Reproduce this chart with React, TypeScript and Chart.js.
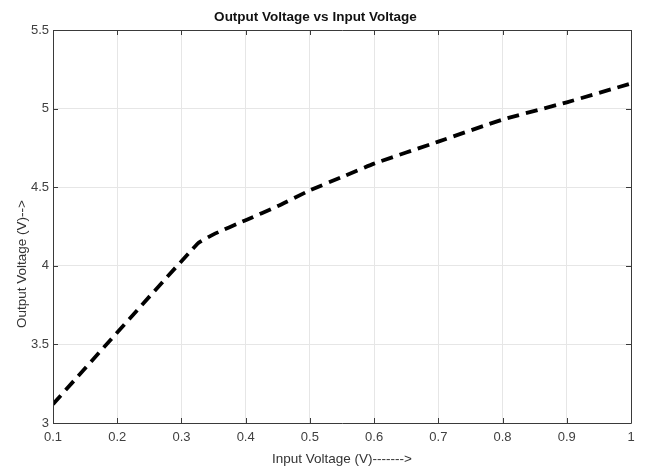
import React, { useEffect, useRef } from "react";
import { Chart, registerables } from "chart.js";

Chart.register(...registerables);

const inputVoltage = [0.1, 0.325, 0.35, 0.4, 0.45, 0.5, 0.55, 0.6, 0.7, 0.8, 0.9, 1.0];
const outputVoltage = [3.12, 4.14, 4.2, 4.29, 4.38, 4.48, 4.565, 4.65, 4.79, 4.93, 5.04, 5.16];
const xTickValues = [0.1, 0.2, 0.3, 0.4, 0.5, 0.6, 0.7, 0.8, 0.9, 1];
const xTickLabels = ["0.1", "0.2", "0.3", "0.4", "0.5", "0.6", "0.7", "0.8", "0.9", "1"];
const yTickValues = [3, 3.5, 4, 4.5, 5, 5.5];
const yTickLabels = ["3", "3.5", "4", "4.5", "5", "5.5"];

const chartTitle = "Output Voltage vs Input Voltage";
const xTitle = "Input Voltage (V)------->";
const yTitle = "Output Voltage (V)-->";

const FONT = "'Liberation Sans', Arial, Helvetica, sans-serif";

const boxPlugin = {
  id: "matlabBox",
  afterDraw(chart: any) {
    const { ctx, chartArea } = chart;
    const { left, right, top, bottom } = chartArea;
    const xs = chart.scales.x;
    const ys = chart.scales.y;
    ctx.save();
    ctx.strokeStyle = "#3a3a3a";
    ctx.lineWidth = 1;
    ctx.beginPath();
    ctx.rect(Math.round(left) + 0.5, Math.round(top) + 0.5, Math.round(right - left), Math.round(bottom - top));
    ctx.stroke();
    ctx.beginPath();
    const tl = 5;
    xTickValues.forEach((v) => {
      const px = Math.round(xs.getPixelForValue(v)) + 0.5;
      ctx.moveTo(px, bottom);
      ctx.lineTo(px, bottom - tl);
      ctx.moveTo(px, top);
      ctx.lineTo(px, top + tl);
    });
    yTickValues.forEach((v) => {
      const py = Math.round(ys.getPixelForValue(v)) + 0.5;
      ctx.moveTo(left, py);
      ctx.lineTo(left + tl, py);
      ctx.moveTo(right, py);
      ctx.lineTo(right - tl, py);
    });
    ctx.stroke();
    // y axis title
    ctx.fillStyle = "#333333";
    ctx.font = `13.5px ${FONT}`;
    ctx.textAlign = "center";
    ctx.textBaseline = "middle";
    ctx.translate(22, 264);
    ctx.rotate(-Math.PI / 2);
    ctx.fillText(yTitle, 0, 0);
    ctx.restore();
  },
};

export default function App() {
  const canvasRef = useRef<HTMLCanvasElement | null>(null);

  useEffect(() => {
    if (!canvasRef.current) return;
    const chart = new Chart(canvasRef.current, {
      type: "line",
      data: {
        datasets: [
          {
            data: inputVoltage.map((x, i) => ({ x, y: outputVoltage[i] })),
            borderColor: "#000000",
            borderWidth: 3.8,
            borderDash: [12, 7],
            borderCapStyle: "butt",
            pointRadius: 0,
            tension: 0.15,
            fill: false,
          },
        ],
      },
      options: {
        animation: false,
        responsive: false,
        devicePixelRatio: 1,
        layout: { padding: { top: 0, right: 14, bottom: 0, left: 0 } },
        plugins: {
          legend: { display: false },
          tooltip: { enabled: false },
          title: {
            display: true,
            text: chartTitle,
            color: "#111111",
            font: { family: FONT, size: 13.5, weight: "bold" },
            padding: { top: 9, bottom: 4.8 },
          },
        },
        scales: {
          x: {
            type: "linear",
            min: 0.1,
            max: 1,
            afterFit: (s: any) => {
              s.height = 45;
            },
            afterBuildTicks: (s: any) => {
              s.ticks = xTickValues.map((v) => ({ value: v }));
            },
            ticks: {
              autoSkip: false,
              maxRotation: 0,
              color: "#404040",
              font: { family: FONT, size: 13 },
              padding: 7,
              callback: (v: any) => {
                const i = xTickValues.findIndex((t) => Math.abs(t - v) < 1e-6);
                return i >= 0 ? xTickLabels[i] : "";
              },
            },
            grid: { color: "#e6e6e6", drawTicks: false },
            border: { display: false },
            title: {
              display: true,
              text: xTitle,
              color: "#333333",
              font: { family: FONT, size: 13.5 },
              padding: { top: 0, bottom: 1 },
            },
          },
          y: {
            type: "linear",
            min: 3,
            max: 5.5,
            afterFit: (s: any) => {
              s.width = 53;
            },
            afterBuildTicks: (s: any) => {
              s.ticks = yTickValues.map((v) => ({ value: v }));
            },
            ticks: {
              autoSkip: false,
              color: "#404040",
              font: { family: FONT, size: 13 },
              padding: 4,
              callback: (v: any) => {
                const i = yTickValues.findIndex((t) => Math.abs(t - v) < 1e-6);
                return i >= 0 ? yTickLabels[i] : "";
              },
            },
            grid: { color: "#e6e6e6", drawTicks: false },
            border: { display: false },
          },
        },
      },
      plugins: [boxPlugin],
    });
    return () => chart.destroy();
  }, []);

  return (
    <div style={{ position: "absolute", left: 0, top: 0, width: 645, height: 468, background: "#fff" }}>
      <canvas ref={canvasRef} width={645} height={468} />
    </div>
  );
}
